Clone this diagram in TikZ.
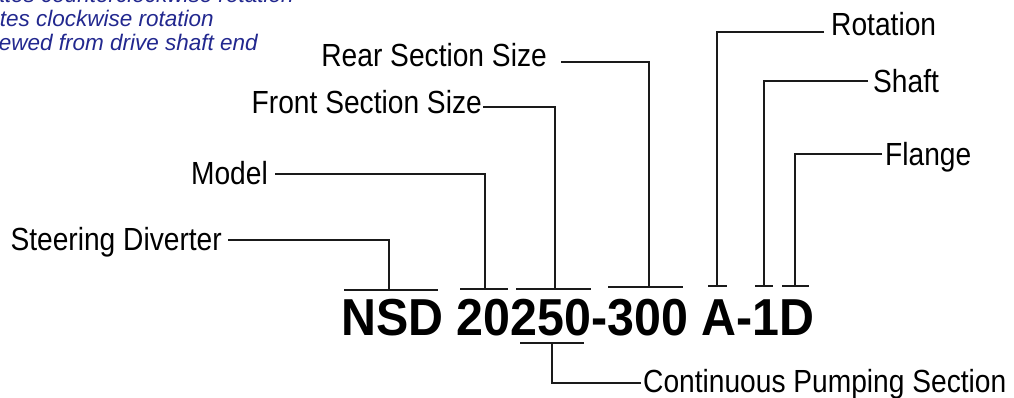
\documentclass[tikz,border=0pt]{standalone}
\usepackage{fontspec}
\newfontfamily\lblf{Liberation Sans}[FakeStretch=0.88]
\newfontfamily\codef{Liberation Sans}[FakeStretch=0.93]
\newfontfamily\notef{Liberation Sans}
\definecolor{navy}{HTML}{22288F}
\definecolor{ink}{HTML}{1A1A1A}
\begin{document}
\begin{tikzpicture}[x=1pt,y=-1pt,
  lbl/.style={font=\lblf\fontsize{32}{36}\selectfont, inner ysep=0pt, inner xsep=0pt, text=black},
  note/.style={font=\notef\itshape\fontsize{22.5}{24}\selectfont, inner sep=0pt, text=navy},
  code/.style={font=\codef\bfseries\fontsize{52}{56}\selectfont, inner sep=0pt, text=black},
  leader/.style={draw=ink, line width=1.2pt},
  under/.style={draw=ink, line width=1.7pt}]
\useasboundingbox (0,0) rectangle (1014,398);
\clip (0,0) rectangle (1014,398);
\fill[white] (0,0) rectangle (1014,398);

% notes (cut at the picture edge, as in the original)
\node[note, anchor=base east] (n1) at (294,3) {L indicates counterclockwise rotation};
\node[note, anchor=base east] (n2) at (214,27) {R indicates clockwise rotation};
\node[note, anchor=base east] (n3) at (258,51) {as viewed from drive shaft end};

% code
\node[code, anchor=base west] (code) at (341,335) {NSD 20250-300 A-1D};

% labels
\node[lbl, anchor=base east] (sd) at (222,250) {Steering Diverter};
\node[lbl, anchor=base east] (model) at (268,185) {Model};
\node[lbl, anchor=base east] (front) at (482,114) {Front Section Size};
\node[lbl, anchor=base east] (rear) at (547,67) {Rear Section Size};
\node[lbl, anchor=base west] (rot) at (831,36) {Rotation};
\node[lbl, anchor=base west] (shaft) at (873,93) {Shaft};
\node[lbl, anchor=base west] (flange) at (885,166) {Flange};
\node[lbl, anchor=base west] (cps) at (643,392) {Continuous Pumping Section};

% underline brackets above the code
\coordinate (u1a) at (344,290); \coordinate (u1b) at (438,290); \coordinate (u1) at (389,290);
\coordinate (u2a) at (460,289); \coordinate (u2b) at (508,289); \coordinate (u2) at (485,289);
\coordinate (u3a) at (516,289); \coordinate (u3b) at (591,289); \coordinate (u3) at (555,289);
\coordinate (u4a) at (608,287); \coordinate (u4b) at (683,287); \coordinate (u4) at (649,287);
\coordinate (u5a) at (708,286); \coordinate (u5b) at (727,286); \coordinate (u5) at (717,286);
\coordinate (u6a) at (755,286); \coordinate (u6b) at (773,286); \coordinate (u6) at (764,286);
\coordinate (u7a) at (782,286); \coordinate (u7b) at (809,286); \coordinate (u7) at (795,286);
% underline below the code
\coordinate (u8a) at (520,343); \coordinate (u8b) at (584,343); \coordinate (u8) at (552,343);

\foreach \i in {1,...,8} { \path[under] (u\i a) -- (u\i b); }

% corners of the leaders
\coordinate (k1) at (389,240);
\coordinate (k2) at (485,174);
\coordinate (k3) at (555,107);
\coordinate (k4) at (649,62);
\coordinate (k5) at (717,32);
\coordinate (k6) at (764,81);
\coordinate (k7) at (795,154);
\coordinate (k8) at (552,383);

\path[leader] ([xshift=6pt]k1 -| sd.east) -- (k1) -- (u1);
\path[leader] ([xshift=7pt]k2 -| model.east) -- (k2) -- (u2);
\path[leader] ([xshift=1pt]k3 -| front.east) -- (k3) -- (u3);
\path[leader] ([xshift=14pt]k4 -| rear.east) -- (k4) -- (u4);
\path[leader] ([xshift=-7pt]k5 -| rot.west) -- (k5) -- (u5);
\path[leader] ([xshift=-5pt]k6 -| shaft.west) -- (k6) -- (u6);
\path[leader] ([xshift=-3pt]k7 -| flange.west) -- (k7) -- (u7);
\path[leader] ([xshift=-2pt]k8 -| cps.west) -- (k8) -- (u8);
\end{tikzpicture}
\end{document}
